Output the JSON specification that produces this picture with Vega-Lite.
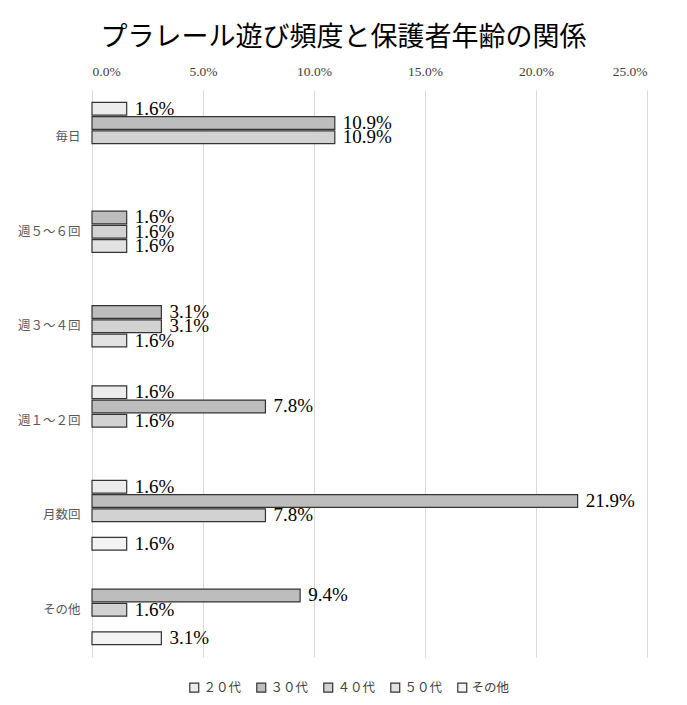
{
  "$schema": "https://vega.github.io/schema/vega-lite/v6.json",
  "width": 555,
  "height": 567,
  "autosize": {"type": "none"},
  "padding": {"left": 92, "top": 90, "right": 40, "bottom": 48},
  "background": "white",
  "title": {
    "text": "プラレール遊び頻度と保護者年齢の関係",
    "font": "Noto Sans CJK JP",
    "fontSize": 27,
    "fontWeight": "normal",
    "color": "#000000",
    "anchor": "middle",
    "dx": -26,
    "offset": 12
  },
  "data": {
    "values": [
      {"freq": "毎日", "age": "２０代", "v": 0.015625},
      {"freq": "毎日", "age": "３０代", "v": 0.109375},
      {"freq": "毎日", "age": "４０代", "v": 0.109375},
      {"freq": "週５～６回", "age": "３０代", "v": 0.015625},
      {"freq": "週５～６回", "age": "４０代", "v": 0.015625},
      {"freq": "週５～６回", "age": "５０代", "v": 0.015625},
      {"freq": "週３～４回", "age": "３０代", "v": 0.03125},
      {"freq": "週３～４回", "age": "４０代", "v": 0.03125},
      {"freq": "週３～４回", "age": "５０代", "v": 0.015625},
      {"freq": "週１～２回", "age": "２０代", "v": 0.015625},
      {"freq": "週１～２回", "age": "３０代", "v": 0.078125},
      {"freq": "週１～２回", "age": "４０代", "v": 0.015625},
      {"freq": "月数回", "age": "２０代", "v": 0.015625},
      {"freq": "月数回", "age": "３０代", "v": 0.21875},
      {"freq": "月数回", "age": "４０代", "v": 0.078125},
      {"freq": "月数回", "age": "その他", "v": 0.015625},
      {"freq": "その他", "age": "３０代", "v": 0.09375},
      {"freq": "その他", "age": "４０代", "v": 0.015625},
      {"freq": "その他", "age": "その他", "v": 0.03125}
    ]
  },
  "encoding": {
    "y": {
      "field": "freq",
      "type": "nominal",
      "sort": ["毎日", "週５～６回", "週３～４回", "週１～２回", "月数回", "その他"],
      "scale": {"paddingInner": 0.26, "paddingOuter": 0.13},
      "axis": {
        "title": null,
        "domain": false,
        "ticks": false,
        "labelFont": "Noto Sans CJK JP",
        "labelFontSize": 12.5,
        "labelColor": "#595959",
        "labelPadding": 12
      }
    },
    "yOffset": {
      "field": "age",
      "type": "nominal",
      "scale": {"domain": ["２０代", "３０代", "４０代", "５０代", "その他"], "paddingInner": 0.1, "paddingOuter": 0}
    },
    "x": {
      "field": "v",
      "type": "quantitative",
      "scale": {"domain": [0, 0.25], "nice": false},
      "axis": {
        "orient": "top",
        "title": null,
        "format": ".1%",
        "values": [0, 0.05, 0.1, 0.15, 0.2, 0.25],
        "grid": true,
        "gridColor": "#d9d9d9",
        "gridWidth": 1,
        "domain": false,
        "ticks": false,
        "labelFont": "Liberation Serif",
        "labelFontSize": 13.5,
        "labelFontWeight": "normal",
        "labelColor": "#404040",
        "labelPadding": 12
      }
    }
  },
  "layer": [
    {
      "mark": {"type": "bar", "stroke": "#333333", "strokeWidth": 1.2},
      "encoding": {
        "color": {
          "field": "age",
          "type": "nominal",
          "scale": {
            "domain": ["２０代", "３０代", "４０代", "５０代", "その他"],
            "range": ["#ececec", "#bdbdbd", "#d2d2d2", "#e2e2e2", "#f3f3f3"]
          },
          "legend": {
            "title": null,
            "orient": "none",
            "direction": "horizontal",
            "legendX": 96,
            "legendY": 591,
            "symbolType": "square",
            "symbolSize": 80,
            "symbolStrokeColor": "#333333",
            "symbolStrokeWidth": 1.2,
            "labelFont": "Noto Sans CJK JP",
            "labelFontSize": 12.5,
            "labelColor": "#404040",
            "columnPadding": 12,
            "labelOffset": 3
          }
        }
      }
    },
    {
      "mark": {
        "type": "text",
        "align": "left",
        "baseline": "middle",
        "dx": 8,
        "font": "Liberation Serif",
        "fontSize": 19,
        "color": "#000000"
      },
      "encoding": {
        "text": {"field": "v", "type": "quantitative", "format": ".1%"}
      }
    }
  ],
  "config": {
    "view": {"stroke": null}
  }
}
